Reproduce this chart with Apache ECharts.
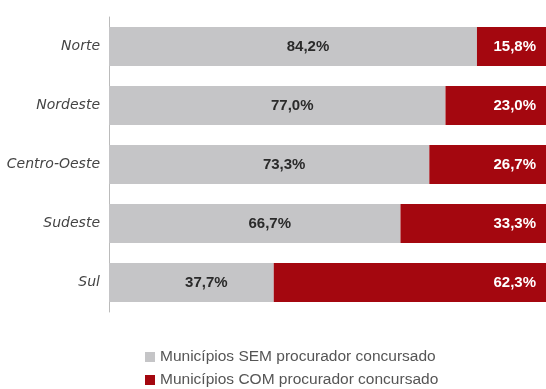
<!DOCTYPE html>
<html><head><meta charset="utf-8">
<script src="https://cdn.jsdelivr.net/npm/echarts@6/dist/echarts.min.js"></script>
<style>html,body{margin:0;padding:0;background:#fff}#c{width:546px;height:389px}</style>
</head><body><div id="c"></div>
<script>
const categories = ['Norte','Nordeste','Centro-Oeste','Sudeste','Sul'];
const semValues = [84.2, 77.0, 73.3, 66.7, 37.7];
const comValues = [15.8, 23.0, 26.7, 33.3, 62.3];
const legendNames = ['Municípios SEM procurador concursado','Municípios COM procurador concursado'];
const fmt = v => v.toFixed(1).replace('.', ',') + '%';
const legendText = {fontSize: 15.5, color: '#555', fontFamily: 'Liberation Sans', lineHeight: 16};
const chart = echarts.init(document.getElementById('c'));
chart.setOption({
  animation: false,
  grid: {left: 109, right: 0, top: 17, bottom: 77},
  xAxis: {type: 'value', min: 0, max: 100, show: false},
  yAxis: {type: 'category', data: categories, inverse: true,
    axisLine: {show: true, lineStyle: {color: '#bbb', width: 1}},
    axisTick: {show: false},
    axisLabel: {fontStyle: 'italic', fontSize: 14, color: '#444', margin: 9, fontFamily: 'DejaVu Sans'}},
  legend: [
    {left: 145, top: 349, padding: 0, itemWidth: 10, itemHeight: 10, itemGap: 0, icon: 'rect', textStyle: legendText, data: [legendNames[0]]},
    {left: 145, top: 372, padding: 0, itemWidth: 10, itemHeight: 10, itemGap: 0, icon: 'rect', textStyle: legendText, data: [legendNames[1]]}
  ],
  series: [
    {name: legendNames[0], type: 'bar', stack: 't', data: semValues, barWidth: 39,
      itemStyle: {color: '#c5c5c7'},
      label: {show: true, position: 'inside', offset: [15, 0], formatter: p => fmt(p.value), color: '#2a2a2a', fontWeight: 'bold', fontSize: 15, fontFamily: 'Liberation Sans'}},
    {name: legendNames[1], type: 'bar', stack: 't', data: comValues, barWidth: 39,
      itemStyle: {color: '#a4070f'},
      label: {show: true, position: 'insideRight', distance: 10, formatter: p => fmt(p.value), color: '#fff', fontWeight: 'bold', fontSize: 15, fontFamily: 'Liberation Sans'}}
  ]
});
</script></body></html>
